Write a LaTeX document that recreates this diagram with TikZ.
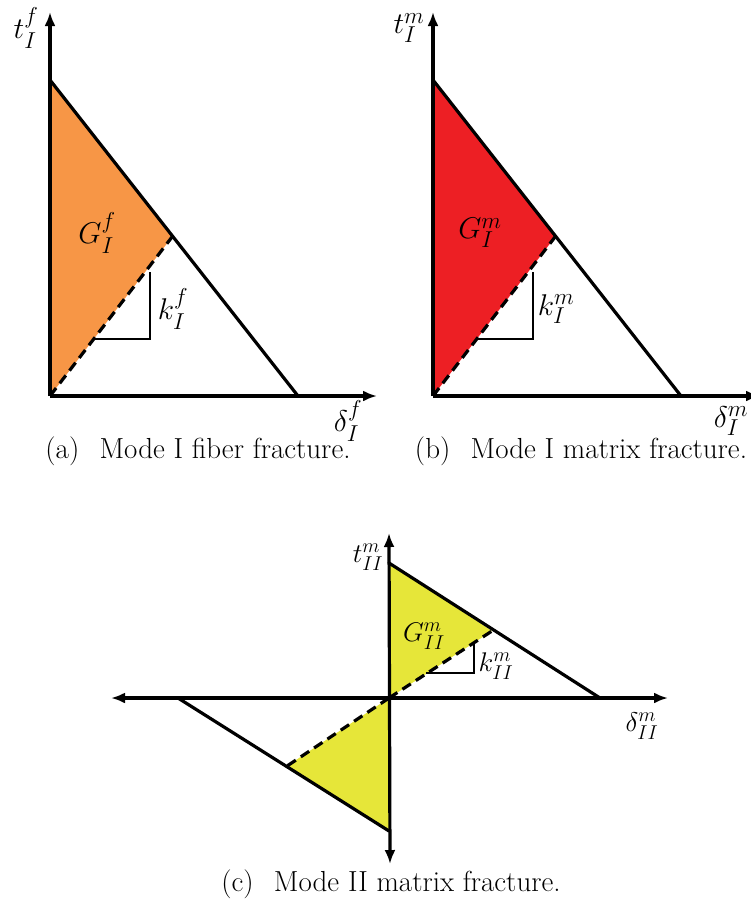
\RequirePackage{fix-cm}
\documentclass[tikz,border=0pt]{standalone}
\usepackage{amsmath}
\usetikzlibrary{arrows.meta}
\DeclareMathSizes{30}{30}{23}{17}
\DeclareMathSizes{27}{27}{20}{15}
\definecolor{FillOrange}{HTML}{F79646}
\definecolor{FillRed}{HTML}{ED1F24}
\definecolor{FillYellow}{HTML}{E6E639}
\tikzset{
  axis/.style={line width=3.2pt,-{Latex[length=14pt,width=11pt]}},
  biaxis/.style={line width=3.2pt,{Latex[length=14pt,width=11pt]}-{Latex[length=14pt,width=11pt]}},
  law/.style={line width=3.2pt,line cap=round},
  unload/.style={line width=3.2pt,dash pattern=on 10pt off 6pt},
  slope/.style={line width=2.8pt},
  biglab/.style={font=\fontsize{30}{36}\selectfont,inner sep=0pt},
  smalllab/.style={font=\fontsize{27}{32}\selectfont,inner sep=0pt},
  capt/.style={font=\fontsize{29}{34}\selectfont,inner sep=0pt}
}
\newcommand{\lbl}[3]{$#1^{#2}_{#3}$}
\begin{document}
\begin{tikzpicture}[x=1pt,y=-1pt]
  \useasboundingbox (0,0) rectangle (751,913);

  % (a) and (b): mode I laws
  \foreach \pn/\dx/\fcol/\idx/\what in {a/0/FillOrange/f/fiber, b/383/FillRed/m/matrix} {
    \begin{scope}[xshift=\dx pt]
      \coordinate (\pn-o) at (50,396);
      \coordinate (\pn-t) at (50,80);
      \coordinate (\pn-d) at (298,396);
      \coordinate (\pn-u) at (172,237);
      \coordinate (\pn-ytip) at (50,12);
      \coordinate (\pn-xtip) at (377,396);
      \fill[\fcol] (\pn-o) -- (\pn-t) -- (\pn-u) -- cycle;
      \draw[axis] (\pn-o) -- (\pn-ytip);
      \draw[axis] (\pn-o) -- (\pn-xtip);
      \draw[law] (\pn-t) -- (\pn-d);
      \draw[unload] (\pn-o) -- (\pn-u);
      \draw[slope] (95,339) -| (150,272);
      \node[biglab] (\pn-tlab) at (26,28) {\lbl{t}{\idx}{I}};
      \node[biglab] (\pn-glab) at (97,233) {\lbl{G}{\idx}{I}};
      \node[biglab] (\pn-klab) at (173,309) {\lbl{k}{\idx}{I}};
      \node[biglab] (\pn-dlab) at (348,421) {\lbl{\delta}{\idx}{I}};
      \node[capt] (\pn-cap) at (198,451) {(\pn)\hspace{0.7em}Mode I \what\ fracture.};
    \end{scope}
  }

  % (c) mode II law
  \coordinate (c-o) at (389,698);
  \coordinate (c-t) at (389,563);
  \coordinate (c-d) at (600,698);
  \coordinate (c-u) at (492,631);
  \coordinate (c-tn) at (389,831);
  \coordinate (c-dn) at (178,698);
  \coordinate (c-un) at (287,766);
  \coordinate (c-ytop) at (389,533);
  \coordinate (c-ybot) at (390,864);
  \coordinate (c-xl) at (111,698);
  \coordinate (c-xr) at (668,698);
  \fill[FillYellow] (c-o) -- (c-t) -- (c-u) -- cycle;
  \fill[FillYellow] (c-o) -- (c-tn) -- (c-un) -- cycle;
  \draw[biaxis] (c-xl) -- (c-xr);
  \draw[biaxis] (c-ybot) -- (c-ytop);
  \draw[law] (c-t) -- (c-d);
  \draw[law] (c-tn) -- (c-dn);
  \draw[unload] (c-o) -- (c-u);
  \draw[unload] (c-o) -- (c-un);
  \draw[slope] (426,673) -| (474,643);
  \node[smalllab] (c-tlab) at (368,557) {\lbl{t}{m}{II}};
  \node[smalllab] (c-glab) at (424,636) {\lbl{G}{m}{II}};
  \node[smalllab] (c-klab) at (496,666) {\lbl{k}{m}{II}};
  \node[smalllab] (c-dlab) at (642,726) {\lbl{\delta}{m}{II}};
  \node[capt] (c-cap) at (391,884) {(c)\hspace{0.7em}Mode II matrix fracture.};
\end{tikzpicture}
\end{document}
